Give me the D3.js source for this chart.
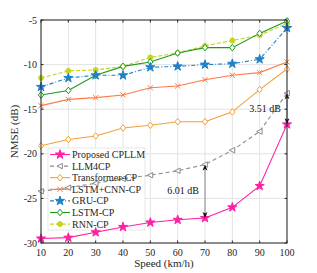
<!DOCTYPE html>
<html><head><meta charset="utf-8">
<script src="https://cdn.jsdelivr.net/npm/d3@7"></script>
<style>body{margin:0;background:#fff}svg{display:block}</style>
</head><body><svg id="c" width="317" height="273"></svg>
<script>
const speeds = [10,20,30,40,50,60,70,80,90,100];
const proposed = [-29.5,-29.4,-28.8,-28.2,-27.7,-27.4,-27.2,-26.0,-23.6,-16.7];
const llm4cp = [-24.2,-23.8,-23.3,-22.8,-22.4,-21.9,-21.2,-19.6,-17.5,-13.2];
const transformer = [-19.1,-18.4,-18.0,-17.1,-16.8,-16.4,-16.4,-15.3,-12.8,-10.5];
const lstmcnn = [-14.6,-13.9,-13.7,-13.4,-12.6,-12.4,-11.7,-11.2,-10.9,-9.7];
const gru = [-12.5,-11.5,-11.2,-11.2,-10.3,-10.2,-10.0,-9.9,-9.4,-5.9];
const lstm = [-13.4,-12.9,-11.2,-10.2,-9.7,-8.7,-8.1,-8.1,-6.5,-5.1];
const rnn = [-11.5,-10.7,-10.6,-10.2,-9.2,-8.7,-7.9,-7.3,-6.7,-5.4];
const xTicks = [10,20,30,40,50,60,70,80,90,100];
const yTicks = [-30,-25,-20,-15,-10,-5];
const seriesNames = ["Proposed CPLLM","LLM4CP","Transformer-CP","LSTM+CNN-CP","GRU-CP","LSTM-CP","RNN-CP"];
const annotations = [{speed:70, top:-21.2, bottom:-27.2, label:"6.01 dB"},{speed:100, top:-13.2, bottom:-16.7, label:"3.51 dB"}];

const series = [
  {name:seriesNames[0], v:proposed, color:"#ff1fa5", dash:null, marker:"star", fill:true},
  {name:seriesNames[1], v:llm4cp, color:"#8c8c8c", dash:"4,3", marker:"tri", fill:false},
  {name:seriesNames[2], v:transformer, color:"#f2a03c", dash:null, marker:"diamond", fill:false},
  {name:seriesNames[3], v:lstmcnn, color:"#ff7a45", dash:null, marker:"x", fill:false},
  {name:seriesNames[4], v:gru, color:"#1f80c8", dash:"4,2,1,2", marker:"star", fill:true},
  {name:seriesNames[5], v:lstm, color:"#1a9a1a", dash:null, marker:"diamond", fill:false},
  {name:seriesNames[6], v:rnn, color:"#c5d41c", dash:"4,2", marker:"ast", fill:true}
];

const font = "'Liberation Serif','DejaVu Serif',serif";
const svg = d3.select("#c");
const L=41, R=287, T=20, B=243;
const x = d3.scaleLinear().domain([10,100]).range([L,R]);
const y = d3.scaleLinear().domain([-30,-5]).range([B,T]);

const g = svg.append("g");
g.selectAll(".gx").data(xTicks).join("line").attr("x1",d=>x(d)).attr("x2",d=>x(d)).attr("y1",T).attr("y2",B).attr("stroke","#e3e3e3").attr("stroke-width",1);
g.selectAll(".gy").data(yTicks).join("line").attr("y1",d=>y(d)).attr("y2",d=>y(d)).attr("x1",L).attr("x2",R).attr("stroke","#e3e3e3").attr("stroke-width",1);

function markerPath(type){
  if(type==="star"){ return d3.symbol(d3.symbolStar, 26)(); }
  if(type==="tri"){ const r=3; return `M${-r},0L${r*0.8},${-r*0.9}L${r*0.8},${r*0.9}Z`; }
  if(type==="diamond"){ const r=3.3; return `M0,${-r}L${r*0.8},0L0,${r}L${-r*0.8},0Z`; }
  if(type==="x"){ const r=2.6; return `M${-r},${-r}L${r},${r}M${-r},${r}L${r},${-r}`; }
  if(type==="ast"){ const r=3, q=r*0.7; return `M${-r},0L${r},0M0,${-r}L0,${r}M${-q},${-q}L${q},${q}M${-q},${q}L${q},${-q}`; }
}
function styleMarker(sel, s){
  sel.attr("d",markerPath(s.marker))
    .attr("fill", s.marker==="ast" ? "none" : (s.fill ? s.color : "#fff"))
    .attr("stroke",s.color).attr("stroke-width", s.marker==="ast"?1.7:1);
}

// legend background (under data, as in reference)
const lgBg = svg.append("rect").attr("x",48).attr("y",148).attr("width",97).attr("height",82).attr("fill","#fff").attr("stroke","#e0e0e0").attr("stroke-width",0.8);

const line = d3.line().x((d,i)=>x(speeds[i])).y(d=>y(d));
series.slice().reverse().forEach(s=>{
  svg.append("path").datum(s.v).attr("d",line).attr("fill","none").attr("stroke",s.color).attr("stroke-width",1.1).attr("stroke-dasharray",s.dash);
  styleMarker(svg.selectAll(null).data(s.v).join("path")
    .attr("transform",(d,i)=>`translate(${x(speeds[i])},${y(d)})`), s);
});

const ann = svg.append("g");
annotations.forEach(a=>{
  const xx = x(a.speed);
  ann.append("line").attr("x1",xx).attr("x2",xx).attr("y1",y(a.top)+2).attr("y2",y(a.bottom)-2).attr("stroke","#8a8a8a").attr("stroke-width",1);
  ann.append("path").attr("d",`M${xx},${y(a.top)}l-2.5,6l2.5,-1.5l2.5,1.5Z`).attr("fill","#111");
  ann.append("path").attr("d",`M${xx},${y(a.bottom)}l-2.5,-6l2.5,1.5l2.5,-1.5Z`).attr("fill","#111");
  ann.append("text").attr("x",xx-6).attr("y",(y(a.top)+y(a.bottom))/2+3).attr("text-anchor","end")
    .attr("font-family",font).attr("font-size",10).attr("fill","#111").text(a.label);
});

svg.append("rect").attr("x",L).attr("y",T).attr("width",R-L).attr("height",B-T).attr("fill","none").attr("stroke","#262626").attr("stroke-width",1);
const tk = svg.append("g").attr("stroke","#262626").attr("stroke-width",1);
xTicks.forEach(t=>{ tk.append("line").attr("x1",x(t)).attr("x2",x(t)).attr("y1",B).attr("y2",B-2.5); tk.append("line").attr("x1",x(t)).attr("x2",x(t)).attr("y1",T).attr("y2",T+2.5); });
yTicks.forEach(t=>{ tk.append("line").attr("y1",y(t)).attr("y2",y(t)).attr("x1",L).attr("x2",L+2.5); tk.append("line").attr("y1",y(t)).attr("y2",y(t)).attr("x1",R).attr("x2",R-2.5); });

svg.selectAll(".xl").data(xTicks).join("text").attr("x",d=>x(d)).attr("y",B+13).attr("text-anchor","middle")
  .attr("font-family",font).attr("font-size",10).attr("fill","#262626").text(d=>d);
svg.selectAll(".yl").data(yTicks).join("text").attr("x",L-4).attr("y",d=>y(d)+3.5).attr("text-anchor","end")
  .attr("font-family",font).attr("font-size",10).attr("fill","#262626").text(d=>d);

svg.append("text").attr("x",(L+R)/2).attr("y",267).attr("text-anchor","middle").attr("font-family",font).attr("font-size",11).attr("fill","#262626").text("Speed (km/h)");
svg.append("text").attr("transform",`translate(18,${(T+B)/2}) rotate(-90)`).attr("text-anchor","middle").attr("font-family",font).attr("font-size",11).attr("fill","#262626").text("NMSE (dB)");

const lg = svg.append("g").attr("transform","translate(48,148)");
series.forEach((s,i)=>{
  const yy = 6.5+i*11.6;
  lg.append("line").attr("x1",2).attr("x2",22).attr("y1",yy).attr("y2",yy).attr("stroke",s.color).attr("stroke-width",1.1).attr("stroke-dasharray",s.dash);
  styleMarker(lg.append("path").attr("transform",`translate(12,${yy})`), s);
  lg.append("text").attr("x",24).attr("y",yy+3.5).attr("font-family",font).attr("font-size",10).attr("fill","#262626").text(s.name);
});
</script></body></html>
